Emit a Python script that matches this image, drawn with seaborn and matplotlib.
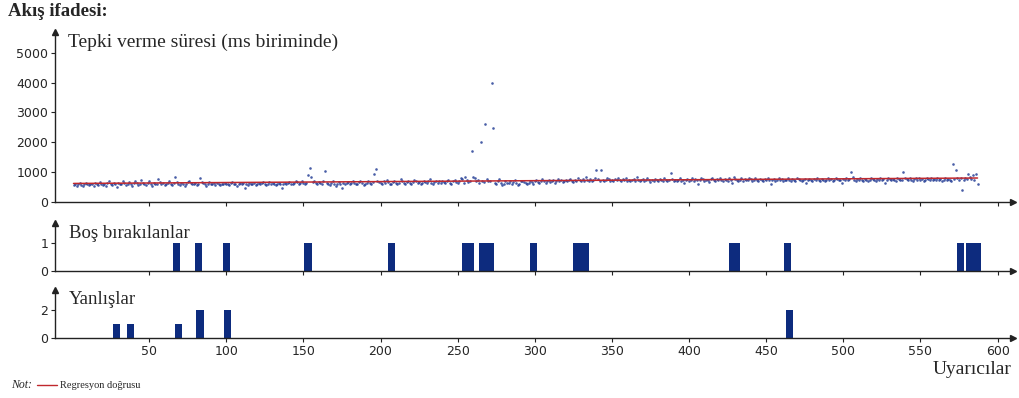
import numpy as np
import matplotlib
matplotlib.use('Agg')
import matplotlib.pyplot as plt
import seaborn as sns
from matplotlib.lines import Line2D

sns.set_style('ticks')
plt.rcParams['font.family'] = ['DejaVu Sans']

# Reaction time per stimulus (ms)
rt_ms = [
    560, 610, 540, 590, 620, 570, 530, 600, 640, 580, 550, 610, 590, 520, 630, 600, 570, 650, 610, 560,
    590, 540, 620, 680, 600, 560, 630, 590, 510, 640, 610, 580, 700, 620, 560, 600, 650, 590, 540, 620,
    680, 630, 570, 610, 720, 640, 590, 560, 620, 690, 600, 540, 630, 580, 610, 760, 650, 590, 620, 560,
    600, 640, 700, 580, 550, 620, 830, 660, 600, 570, 640, 610, 520, 590, 650, 700, 620, 580, 610, 640,
    560, 600, 780, 650, 620, 590, 540, 610, 660, 600, 580, 620, 570, 640, 600, 550, 610, 590, 630, 580,
    600, 560, 620, 650, 580, 610, 540, 600, 640, 590, 620, 470, 610, 560, 630, 600, 580, 620, 550, 610,
    640, 590, 620, 660, 600, 570, 610, 650, 580, 620, 600, 560, 590, 630, 610, 450, 600, 640, 590, 620,
    660, 610, 580, 630, 700, 650, 600, 620, 680, 640, 590, 620, 900, 1140, 820, 660, 700, 630, 600, 650,
    620, 580, 700, 1040, 640, 600, 560, 620, 680, 590, 540, 610, 650, 600, 470, 630, 580, 620, 660, 600,
    640, 690, 620, 600, 580, 650, 700, 620, 560, 600, 640, 680, 620, 590, 650, 940, 1110, 700, 660, 620,
    600, 680, 640, 720, 660, 610, 580, 650, 700, 620, 590, 640, 750, 680, 620, 600, 660, 700, 640, 610,
    650, 720, 680, 620, 660, 590, 640, 700, 660, 620, 680, 750, 640, 600, 660, 700, 620, 680, 640, 700,
    660, 620, 690, 720, 640, 600, 680, 740, 660, 620, 700, 780, 760, 640, 820, 720, 650, 700, 1710, 840,
    800, 680, 720, 640, 2020, 700, 660, 2600, 760, 700, 680, 4000, 2470, 620, 580, 700, 760, 640, 560, 600,
    700, 640, 620, 680, 600, 660, 720, 640, 560, 610, 680, 700, 650, 620, 580, 640, 700, 660, 610, 680,
    720, 660, 640, 700, 760, 680, 620, 700, 740, 660, 690, 720, 640, 700, 760, 680, 720, 660, 700, 740,
    680, 720, 760, 700, 660, 740, 700, 780, 720, 680, 760, 700, 820, 740, 700, 760, 680, 720, 780, 1060,
    760, 700, 1070, 740, 680, 720, 800, 760, 700, 740, 680, 760, 720, 800, 740, 700, 760, 720, 780, 700,
    740, 680, 720, 760, 700, 820, 740, 680, 720, 760, 700, 740, 780, 720, 660, 740, 700, 760, 720, 680,
    760, 720, 700, 800, 740, 680, 720, 960, 760, 700, 740, 680, 720, 780, 700, 740, 640, 720, 760, 700,
    740, 780, 700, 760, 720, 600, 740, 800, 760, 700, 740, 720, 660, 760, 800, 740, 700, 760, 720, 780,
    740, 700, 760, 720, 680, 780, 740, 620, 820, 760, 720, 680, 740, 780, 700, 760, 720, 740, 800, 760,
    700, 740, 780, 720, 680, 760, 740, 700, 760, 720, 800, 740, 600, 720, 760, 700, 740, 780, 720, 760,
    700, 740, 720, 780, 740, 680, 760, 720, 700, 800, 760, 720, 680, 740, 760, 640, 720, 760, 740, 700,
    760, 720, 780, 740, 700, 760, 720, 680, 740, 780, 720, 760, 700, 740, 800, 760, 720, 740, 620, 760,
    740, 780, 720, 760, 980, 820, 740, 700, 760, 720, 780, 740, 700, 760, 720, 680, 740, 780, 760, 720,
    700, 760, 740, 780, 720, 760, 620, 740, 800, 760, 720, 760, 740, 700, 780, 760, 720, 740, 980, 800,
    760, 720, 780, 740, 700, 760, 800, 740, 780, 720, 760, 700, 740, 780, 760, 720, 800, 740, 760, 720,
    780, 740, 760, 700, 740, 780, 720, 760, 740, 700, 1270, 760, 1070, 800, 740, 780, 400, 720, 800, 760,
    930, 820, 760, 900, 720, 940, 600,
]
stimulus = list(range(1, len(rt_ms) + 1))

# Blank (unanswered) stimuli
blank_stimuli = [68, 82, 100, 153, 207, 255, 256, 257, 258, 266, 267, 268, 269, 270, 271,
                 299, 327, 328, 329, 330, 331, 332, 333, 428, 429, 430, 431, 464, 576,
                 582, 583, 584, 585, 586, 587]
blank_counts = [1] * len(blank_stimuli)

# Wrong answers
wrong_stimuli = [29, 38, 69, 83, 101, 465]
wrong_counts = [1, 1, 1, 2, 2, 2]

x_ticks = [50, 100, 150, 200, 250, 300, 350, 400, 450, 500, 550, 600]

navy = '#0d2b7e'
dot_color = '#1c3691'
red = '#c0282d'
axis_color = '#222222'
serif = ['Liberation Serif', 'DejaVu Serif']

fig = plt.figure(figsize=(10.19, 3.98), dpi=100)
W, H = 1019, 398


def px_axes(top, bottom):
    return fig.add_axes([55 / W, 1 - bottom / H, (1013 - 55) / W, (bottom - top) / H])


ax_rt = px_axes(31.7, 201.7)
ax_blank = px_axes(223.3, 271)
ax_wrong = px_axes(290, 338.3)

sns.regplot(x=stimulus, y=rt_ms, ax=ax_rt, ci=None, truncate=True,
            scatter_kws=dict(s=3.5, color=dot_color, linewidths=0, marker='s'),
            line_kws=dict(color=red, lw=1.1))
ax_rt.set_ylim(0, 5705)
ax_rt.set_yticks([0, 1000, 2000, 3000, 4000, 5000])

ax_blank.bar(blank_stimuli, blank_counts, width=4.7, color=navy, linewidth=0)
ax_blank.set_ylim(0, 1.69)
ax_blank.set_yticks([0, 1])

ax_wrong.bar(wrong_stimuli, wrong_counts, width=4.7, color=navy, linewidth=0)
ax_wrong.set_ylim(0, 3.4)
ax_wrong.set_yticks([0, 2])

for ax in (ax_rt, ax_blank, ax_wrong):
    ax.set_xlim(-11, 610)
    ax.set_xticks(x_ticks)
    sns.despine(ax=ax)
    for side in ('left', 'bottom'):
        ax.spines[side].set_color(axis_color)
        ax.spines[side].set_linewidth(1.0)
    ax.tick_params(axis='both', direction='out', length=3, width=0.8, color=axis_color,
                   labelsize=9, pad=2)
    ax.set_xlabel('')
    ax.set_ylabel('')
    ax.patch.set_alpha(0)
    # arrow heads on the axes
    ax.plot(1, 0, marker='>', ms=4, color=axis_color, transform=ax.transAxes, clip_on=False)
    ax.plot(0, 1, marker='^', ms=4, color=axis_color, transform=ax.transAxes, clip_on=False)

ax_rt.tick_params(axis='x', labelbottom=False)
ax_blank.tick_params(axis='x', labelbottom=False)

# texts
fig.text(8 / W, 1 - 12 / H, 'Akış ifadesi:', family=serif, fontweight='bold', fontsize=13.5,
         va='center', ha='left')
fig.text(68 / W, 1 - 42.7 / H, 'Tepki verme süresi (ms biriminde)', family=serif, fontsize=14,
         va='center', ha='left')
fig.text(69 / W, 1 - 233 / H, 'Boş bırakılanlar', family=serif, fontsize=13.5,
         va='center', ha='left')
fig.text(69 / W, 1 - 300 / H, 'Yanlışlar', family=serif, fontsize=13.5,
         va='center', ha='left')
fig.text(1012 / W, 1 - 369 / H, 'Uyarıcılar', family=serif, fontsize=14,
         va='center', ha='right')
fig.text(11 / W, 1 - 385 / H, 'Not:', family=serif, fontstyle='italic', fontsize=8.5,
         va='center', ha='left')
fig.add_artist(Line2D([36.7 / W, 56.7 / W], [1 - 385 / H, 1 - 385 / H], color=red, lw=1))
fig.text(60 / W, 1 - 385 / H, 'Regresyon doğrusu', family=serif, fontsize=7.5,
         va='center', ha='left')

fig.savefig('out.png', dpi=100)
